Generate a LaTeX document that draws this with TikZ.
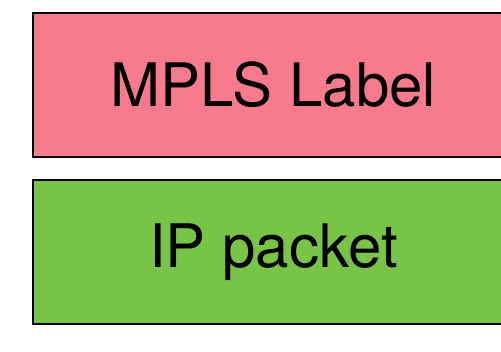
\documentclass[tikz,border=0pt]{standalone}
\usepackage{fontspec}
\setmainfont{TeX Gyre Heros}
\usepackage{tikz}
\definecolor{labelpink}{RGB}{247,123,141}
\definecolor{ipgreen}{RGB}{120,196,70}
\tikzset{
  layer/.style={draw=black, line width=2pt, minimum width=481pt, minimum height=144pt,
    inner sep=0pt, font=\fontsize{60}{62}\selectfont}
}
\begin{document}
\begin{tikzpicture}[x=1pt, y=-1pt]

\useasboundingbox (0,0) rectangle (501,351);
\clip (0,0) rectangle (501,351);

\node[layer, fill=labelpink] (mpls) at (273.5,84.5) {MPLS Label};
\node[layer, fill=ipgreen] (ip) at (273.5,252) {IP packet};

\end{tikzpicture}
\end{document}
